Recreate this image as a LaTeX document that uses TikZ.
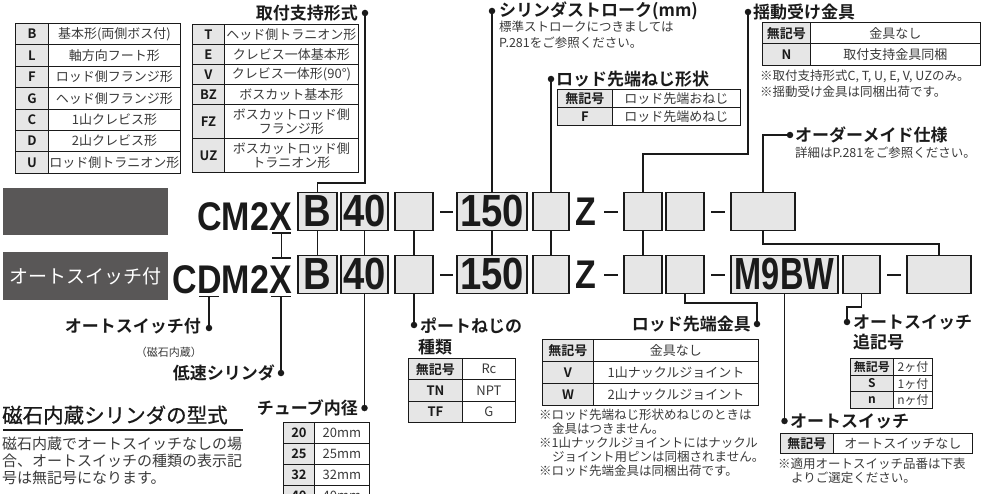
\documentclass[tikz,border=0pt]{standalone}
\usepackage{fontspec}
\usepackage{graphicx}
\usetikzlibrary{calc}
\setmainfont{Noto Sans CJK JP}[BoldFont={Noto Sans CJK JP Bold}]
\newfontfamily\jpmed{Noto Sans CJK JP}[FakeBold=0.7]
\newfontfamily\codef{Liberation Sans}[FakeStretch=0.85]
\definecolor{boxgray}{HTML}{E6E6E6}
\definecolor{darkbg}{HTML}{595757}
\definecolor{ink}{HTML}{1A1A1A}
\definecolor{bodyc}{HTML}{3A3A3A}
\newcommand\cellfs{\fontsize{13}{14.5}\selectfont}
% name, x, y, code width, text width, height, code, text
\newcommand\trow[8]{%
  \node[codecell,minimum width=#4pt,minimum height=#6pt] (#1c) at (#2,#3) {#7};
  \node[txtcell,minimum width=#5pt,minimum height=#6pt] (#1t) at (#2+#4,#3) {#8};
}
\begin{document}
\begin{tikzpicture}[x=1pt,y=-1pt,
  cell/.style={draw=ink, line width=0.9pt, inner sep=0pt, anchor=north west, align=center},
  codecell/.style={cell, fill=boxgray, text=ink, font=\bfseries\cellfs},
  txtcell/.style={cell, fill=white, text=bodyc, font=\cellfs},
  lbl/.style={inner sep=0pt, text=ink},
  ttl/.style={lbl, font=\bfseries\fontsize{17}{17}\selectfont},
  note/.style={lbl, text=bodyc, font=\fontsize{12.5}{12.5}\selectfont},
  body/.style={lbl, text=bodyc, font=\fontsize{15}{15}\selectfont},
  dotn/.style={circle, fill=ink, inner sep=0pt, minimum size=6.5pt},
  conn/.style={draw=ink, line width=1.3pt},
  codebox/.style={draw=ink, line width=1.4pt, fill=boxgray, inner sep=0pt, minimum height=38pt, text=ink, font=\codef\bfseries\fontsize{45}{45}\selectfont},
  codetxt/.style={inner sep=0pt, text=ink, font=\codef\bfseries\fontsize{40}{40}\selectfont},
  dashl/.style={draw=ink, line width=2.8pt},
  darkrect/.style={fill=darkbg, inner sep=0pt, anchor=north west, text=white, font=\fontsize{19}{19}\selectfont}
]
\useasboundingbox (0,0) rectangle (981,494);
\clip (0,0) rectangle (981,494);

% ---------- dark label blocks ----------
\node[darkrect, minimum width=165pt, minimum height=47pt] (rA) at (3,188) {};
\node[darkrect, minimum width=165pt, minimum height=48pt] (rB) at (3,252) {オートスイッチ付};

% ---------- model codes ----------
\node[codetxt, anchor=base east] (cm) at (292,230) {CM2X};
\node[codetxt, anchor=base east] (cdm) at (292,293) {CDM2X};

% row 1 boxes
\node[codebox, minimum width=39pt] (b1) at (317.5,211.5) {B};
\node[codebox, minimum width=47pt] (n1) at (364.5,211.5) {40};
\node[codebox, minimum width=38pt] (p1) at (414,211.5) {};
\node[codebox, minimum width=70pt] (s1) at (492,211.5) {150};
\node[codebox, minimum width=36pt] (r1) at (551,211.5) {};
\node[codetxt] (z1) at (586,211.5) {Z};
\node[codebox, minimum width=38pt] (f1) at (643,211.5) {};
\node[codebox, minimum width=38pt] (e1) at (685,211.5) {};
\node[codebox, minimum width=64pt] (o1) at (763,211.5) {};
\draw[dashl] (440,212) -- (453,212);
\draw[dashl] (604,212) -- (618,212);
\draw[dashl] (711,212) -- (725,212);

% row 2 boxes
\node[codebox, minimum width=39pt] (b2) at (317.5,274.5) {B};
\node[codebox, minimum width=47pt] (n2) at (364.5,274.5) {40};
\node[codebox, minimum width=38pt] (p2) at (414,274.5) {};
\node[codebox, minimum width=70pt] (s2) at (492,274.5) {150};
\node[codebox, minimum width=36pt] (r2) at (551,274.5) {};
\node[codetxt] (z2) at (586,274.5) {Z};
\node[codebox, minimum width=38pt] (f2) at (643,274.5) {};
\node[codebox, minimum width=38pt] (e2) at (685,274.5) {};
\node[codebox, minimum width=107pt] (m2) at (784.5,274.5) {\scalebox{0.85}[1]{M9BW}};
\node[codebox, minimum width=37pt] (a2) at (861.5,274.5) {};
\node[codebox, minimum width=64pt] (o2) at (939,274.5) {};
\draw[dashl] (440,275) -- (453,275);
\draw[dashl] (604,275) -- (618,275);
\draw[dashl] (711,275) -- (725,275);
\draw[dashl] (887,275) -- (901,275);

% ---------- top left tables ----------
\trow{ta1}{15}{23}{33}{132}{21.4}{B}{基本形(両側ボス付)}
\trow{ta2}{15}{44.4}{33}{132}{21.4}{L}{軸方向フート形}
\trow{ta3}{15}{65.8}{33}{132}{21.4}{F}{ロッド側フランジ形}
\trow{ta4}{15}{87.2}{33}{132}{21.4}{G}{ヘッド側フランジ形}
\trow{ta5}{15}{108.6}{33}{132}{21.4}{C}{1山クレビス形}
\trow{ta6}{15}{130}{33}{132}{21.4}{D}{2山クレビス形}
\trow{ta7}{15}{151.4}{33}{132}{21.4}{U}{ロッド側トラニオン形}

\trow{tb1}{192}{24}{32}{134}{20}{T}{ヘッド側トラニオン形}
\trow{tb2}{192}{44}{32}{134}{20}{E}{クレビス一体基本形}
\trow{tb3}{192}{64}{32}{134}{20}{V}{クレビス一体形(90°)}
\trow{tb4}{192}{84}{32}{134}{20}{BZ}{ボスカット基本形}
\trow{tb5}{192}{104}{32}{134}{34}{FZ}{ボスカットロッド側\\フランジ形}
\trow{tb6}{192}{138}{32}{134}{34}{UZ}{ボスカットロッド側\\トラニオン形}

\node[ttl, anchor=east] (lTori) at (358,13) {取付支持形式};
\node[dotn] (dTori) at (365,13) {};

% ---------- top middle ----------
\node[dotn] (dStroke) at (492,11) {};
\node[ttl, anchor=west] (lStroke) at (499,11) {シリンダストローク(mm)};
\node[note, anchor=west] (lStroke2) at (499,27) {標準ストロークにつきましては};
\node[note, anchor=west] (lStroke3) at (499,43) {P.281をご参照ください。};

\node[dotn] (dRod) at (551,79) {};
\node[ttl, anchor=west] (lRod) at (556,79) {ロッド先端ねじ形状};
\trow{tr1}{557}{89}{55}{128}{18}{無記号}{ロッド先端おねじ}
\trow{tr2}{557}{107}{55}{128}{18}{F}{ロッド先端めねじ}

% ---------- top right ----------
\node[dotn] (dPiv) at (748,12) {};
\node[ttl, anchor=west] (lPiv) at (753,12) {揺動受け金具};
\trow{tp1}{762}{22}{48}{170}{21.5}{無記号}{金具なし}
\trow{tp2}{762}{43.5}{48}{170}{21.5}{N}{取付支持金具同梱}
\node[note, anchor=west] (nPiv1) at (760,76) {※取付支持形式C, T, U, E, V, UZのみ。};
\node[note, anchor=west] (nPiv2) at (760,92) {※揺動受け金具は同梱出荷です。};

\node[dotn] (dOrd) at (790,135) {};
\node[ttl, anchor=west] (lOrd) at (795,135) {オーダーメイド仕様};
\node[note, anchor=west] (lOrd2) at (795,153) {詳細はP.281をご参照ください。};

% ---------- bottom left ----------
\node[ttl, anchor=east] (lAuto) at (201,326) {オートスイッチ付};
\node[lbl, anchor=east, text=bodyc, font=\fontsize{11}{11}\selectfont] (lAuto2) at (202,352) {（磁石内蔵）};
\node[dotn] (dAuto) at (209,328) {};
\node[ttl, anchor=east] (lLow) at (275,373) {低速シリンダ};
\node[dotn] (dLow) at (281,373) {};

\node[lbl, anchor=west, font=\jpmed\fontsize{20.5}{20.5}\selectfont] (lHead) at (2,415) {磁石内蔵シリンダの型式};
\draw[draw=ink, line width=1.5pt] (3,430) -- (243,430);
\node[body, anchor=west] (lBody1) at (2,444) {磁石内蔵でオートスイッチなしの場};
\node[body, anchor=west] (lBody2) at (2,461) {合、オートスイッチの種類の表示記};
\node[body, anchor=west] (lBody3) at (2,478) {号は無記号になります。};

% ---------- bottom middle ----------
\node[ttl, anchor=east] (lTube) at (358,408) {チューブ内径};
\node[dotn] (dTube) at (364.5,408) {};
\trow{tt1}{283}{422}{31}{55}{21}{20}{20mm}
\trow{tt2}{283}{443}{31}{55}{21}{25}{25mm}
\trow{tt3}{283}{464}{31}{55}{21}{32}{32mm}
\trow{tt4}{283}{485}{31}{55}{21}{40}{40mm}

\node[dotn] (dPort) at (414,325) {};
\node[ttl, anchor=west] (lPort) at (420,326) {ポートねじの};
\node[ttl, anchor=west] (lPort2) at (418,347) {種類};
\trow{tq1}{408}{358}{54}{53}{21.3}{無記号}{Rc}
\trow{tq2}{408}{379.3}{54}{53}{21.3}{TN}{NPT}
\trow{tq3}{408}{400.6}{54}{53}{21.3}{TF}{G}

\node[ttl, anchor=east] (lEnd) at (751,324) {ロッド先端金具};
\node[dotn] (dEnd) at (757,324) {};
\trow{te1}{542}{339}{51}{165}{22}{無記号}{金具なし}
\trow{te2}{542}{361}{51}{165}{22}{V}{1山ナックルジョイント}
\trow{te3}{542}{383}{51}{165}{22}{W}{2山ナックルジョイント}
\node[note, anchor=west] (nEnd1) at (539,415) {※ロッド先端ねじ形状めねじのときは};
\node[note, anchor=west] (nEnd2) at (552,429) {金具はつきません。};
\node[note, anchor=west] (nEnd3) at (539,443) {※1山ナックルジョイントにはナックル};
\node[note, anchor=west] (nEnd4) at (552,457) {ジョイント用ピンは同梱されません。};
\node[note, anchor=west] (nEnd5) at (539,471) {※ロッド先端金具は同梱出荷です。};

% ---------- bottom right ----------
\node[dotn] (dSfx) at (847,322) {};
\node[ttl, anchor=west] (lSfx) at (853,322) {オートスイッチ};
\node[ttl, anchor=west] (lSfx2) at (853,342) {追記号};
\begin{scope}
\renewcommand\cellfs{\fontsize{12}{13}\selectfont}
\trow{ts1}{850}{358}{43}{39}{16.7}{無記号}{2ヶ付}
\trow{ts2}{850}{374.7}{43}{39}{16.7}{S}{1ヶ付}
\trow{ts3}{850}{391.4}{43}{39}{16.7}{n}{nヶ付}
\end{scope}

\node[dotn] (dSw) at (784.5,421) {};
\node[ttl, anchor=west] (lSw) at (790,421) {オートスイッチ};
\trow{tw1}{780}{433}{53}{139}{20}{無記号}{オートスイッチなし}
\node[note, anchor=west] (nSw1) at (778,464) {※適用オートスイッチ品番は下表};
\node[note, anchor=west] (nSw2) at (791,478) {よりご選定ください。};

% ---------- connectors ----------
\draw[conn] (dTori.center) -- (365,183) -| (b1.north);
\draw[conn] (dStroke.center) -- (s1.north);
\draw[conn] (dRod.center) -- (r1.north);
\draw[conn] (dPiv.center) -- (748,154) -| (f1.north);
\draw[conn] (dOrd.center) -| (o1.north);

\foreach \u/\v in {b1/b2, n1/n2, p1/p2, s1/s2, r1/r2, f1/f2}
  \draw[conn] (\u.south) -- (\v.north);
\draw[conn] (o1.south) -- (763,244) -| (o2.north);

% X of CM2X to X of CDM2X
\coordinate (xuA) at (272,233);
\coordinate (xuB) at (291,233);
\coordinate (xoA) at (272,258);
\coordinate (xoB) at (291,258);
\draw[conn] (xuA) -- (xuB);
\draw[conn] (xoA) -- (xoB);
\draw[conn] ($(xuA)!0.5!(xuB)$) -- ($(xoA)!0.5!(xoB)$);

% D and X of CDM2X
\coordinate (duA) at (199,296.5);
\coordinate (duB) at (219,296.5);
\draw[conn] (duA) -- (duB);
\draw[conn] (dAuto.center) -- (dAuto.center |- duA);
\coordinate (x2A) at (271,296.5);
\coordinate (x2B) at (291,296.5);
\draw[conn] (x2A) -- (x2B);
\draw[conn] (dLow.center) -- (dLow.center |- x2A);

\draw[conn] (n2.south) -- (dTube.center);
\draw[conn] (p2.south) -- (dPort.center);
\draw[conn] (e2.south) -- (685,303) -| (dEnd.center);
\draw[conn] (m2.south) -- (dSw.center);
\draw[conn] (a2.south) -- (861.5,307) -| (dSfx.center);
\end{tikzpicture}
\end{document}
